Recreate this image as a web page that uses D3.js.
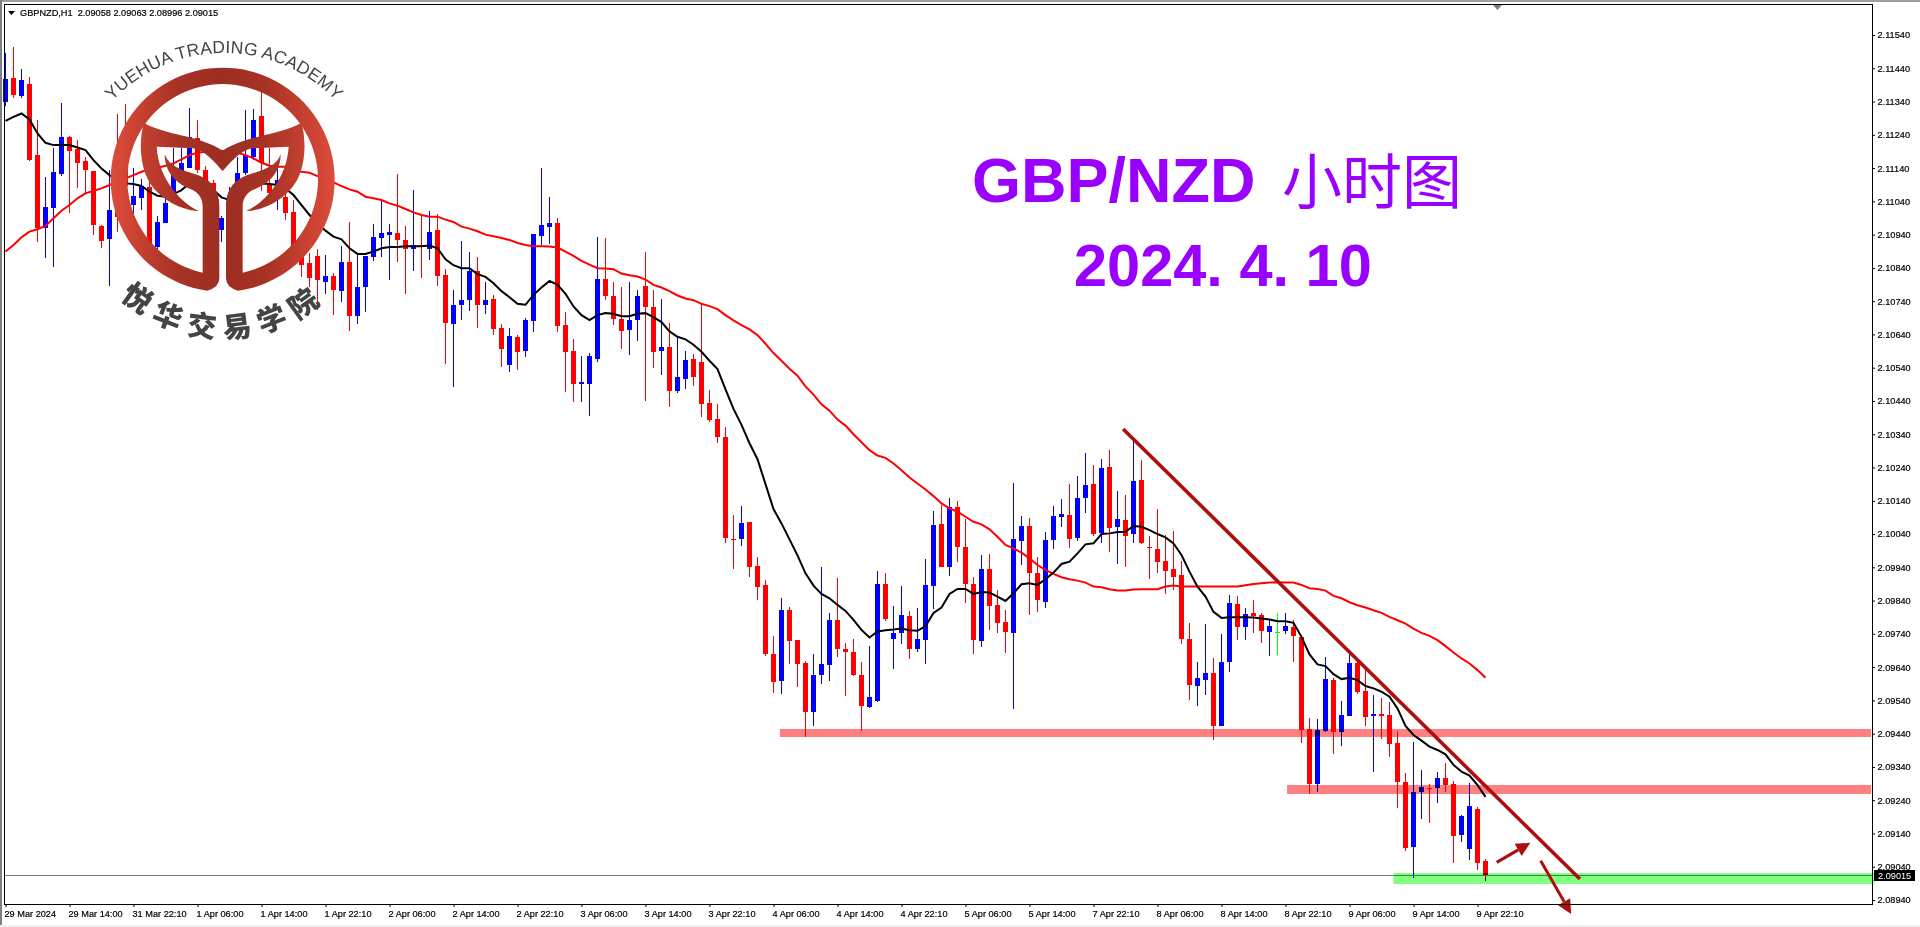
<!DOCTYPE html>
<html>
<head>
<meta charset="utf-8">
<script src="https://cdn.jsdelivr.net/npm/d3@7"></script>
<style>
  html, body { margin: 0; padding: 0; background: #fff; overflow: hidden; }
  svg { display: block; }
  text { font-family: 'Liberation Sans', Arial, sans-serif; }
  .small { font-size: 9.2px; stroke-width: 0.2px; }
</style>
</head>
<body>
<svg id="chart" width="1920" height="927"></svg>
<script>
const highs = [
  2.11485,2.11503,2.11437,2.11413,2.11286,2.11114,2.11199,2.11337,2.11236,2.11224,
  2.11172,2.11132,2.10969,2.11134,2.11304,2.11332,2.11139,2.11106,2.11124,2.10996,
  2.11107,2.11199,2.11199,2.11320,2.11284,2.11146,2.11104,2.10996,2.11084,2.11174,
  2.11314,2.11317,2.11369,2.11199,2.11144,2.11084,2.11044,2.10924,2.10884,2.10896,
  2.10879,2.10825,2.10906,2.10978,2.10879,2.10876,2.10972,2.11041,2.10972,2.11122,
  2.10966,2.11074,2.10999,2.11011,2.11002,2.10836,2.10773,2.10921,2.10888,2.10873,
  2.10797,2.10759,2.10670,2.10659,2.10638,2.10689,2.10942,2.11140,2.11054,2.10990,
  2.10706,2.10625,2.10575,2.10584,2.10932,2.10930,2.10797,2.10782,2.10799,2.10775,
  2.10888,2.10773,2.10746,2.10673,2.10636,2.10590,2.10581,2.10732,2.10473,2.10430,
  2.10362,2.10097,2.10124,2.10076,2.09971,2.09902,2.09733,2.09848,2.09820,2.09721,
  2.09658,2.09679,2.09941,2.09804,2.09908,2.09712,2.09726,2.09655,2.09703,2.09928,
  2.09922,2.09823,2.09884,2.09808,2.09817,2.09965,2.10109,2.10127,2.10148,2.10139,
  2.10085,2.09911,2.09977,2.09980,2.09872,2.09811,2.10193,2.10094,2.10088,2.09971,
  2.10046,2.10124,2.10145,2.10190,2.10214,2.10283,2.10247,2.10265,2.10292,2.10169,
  2.10157,2.10322,2.10262,2.10034,2.10115,2.10037,2.10049,2.09959,2.09772,2.09655,
  2.09769,2.09667,2.09739,2.09857,2.09854,2.09817,2.09842,2.09802,2.09781,2.09802,
  2.09802,2.09781,2.09736,2.09487,2.09484,2.09670,2.09607,2.09538,2.09679,2.09661,
  2.09641,2.09556,2.09547,2.09535,2.09448,2.09321,2.09415,2.09331,2.09288,2.09325,
  2.09352,2.09297,2.09195,2.09291,2.09219,2.09063
];
const lows = [
  2.11326,2.11352,2.11351,2.11162,2.10919,2.10871,2.10843,2.11117,2.11004,2.11081,
  2.11064,2.10939,2.10900,2.10786,2.10947,2.11044,2.10994,2.11014,2.10904,2.10889,
  2.10976,2.11054,2.11094,2.11139,2.11124,2.11064,2.11004,2.10919,2.10964,2.11024,
  2.11119,2.11164,2.11072,2.11049,2.11014,2.10984,2.10874,2.10813,2.10783,2.10713,
  2.10763,2.10698,2.10738,2.10651,2.10671,2.10706,2.10861,2.10874,2.10805,2.10857,
  2.10761,2.10830,2.10809,2.10863,2.10785,2.10551,2.10482,2.10683,2.10710,2.10659,
  2.10700,2.10638,2.10543,2.10528,2.10534,2.10572,2.10647,2.10909,2.10912,2.10646,
  2.10466,2.10436,2.10438,2.10396,2.10556,2.10743,2.10668,2.10596,2.10579,2.10620,
  2.10440,2.10539,2.10518,2.10421,2.10463,2.10476,2.10485,2.10393,2.10376,2.10315,
  2.10013,2.09936,2.10005,2.09912,2.09843,2.09674,2.09562,2.09560,2.09650,2.09579,
  2.09431,2.09464,2.09590,2.09599,2.09670,2.09554,2.09613,2.09448,2.09517,2.09536,
  2.09778,2.09634,2.09709,2.09664,2.09685,2.09649,2.09814,2.09941,2.09914,2.09956,
  2.09833,2.09679,2.09700,2.09751,2.09742,2.09682,2.09514,2.09947,2.09796,2.09805,
  2.09817,2.09995,2.10061,2.09998,2.10019,2.10103,2.10034,2.10013,2.09986,2.09950,
  2.09941,2.10013,2.10010,2.09905,2.09923,2.09860,2.09872,2.09709,2.09541,2.09523,
  2.09556,2.09421,2.09463,2.09625,2.09721,2.09721,2.09742,2.09712,2.09673,2.09676,
  2.09739,2.09655,2.09412,2.09258,2.09264,2.09445,2.09379,2.09403,2.09493,2.09559,
  2.09463,2.09324,2.09425,2.09370,2.09216,2.09088,2.09007,2.09183,2.09171,2.09231,
  2.09264,2.09051,2.09114,2.09060,2.09030,2.08996
];
const opens = [
  2.11339,2.11410,2.11356,2.11393,2.11179,2.10961,2.11021,2.11122,2.11233,2.11197,
  2.11160,2.11130,2.10966,2.10928,2.11114,2.11154,2.11030,2.11050,2.11084,2.10904,
  2.10976,2.11066,2.11114,2.11141,2.11230,2.11134,2.11094,2.10952,2.10984,2.11044,
  2.11124,2.11174,2.11296,2.11089,2.11084,2.11054,2.11008,2.10899,2.10854,2.10876,
  2.10797,2.10815,2.10770,2.10857,2.10695,2.10782,2.10873,2.10930,2.10939,2.10945,
  2.10924,2.10897,2.10909,2.10897,2.10954,2.10818,2.10671,2.10728,2.10743,2.10832,
  2.10729,2.10746,2.10659,2.10549,2.10632,2.10591,2.10681,2.10937,2.10963,2.10975,
  2.10668,2.10590,2.10492,2.10491,2.10567,2.10806,2.10755,2.10686,2.10654,2.10684,
  2.10785,2.10722,2.10590,2.10602,2.10468,2.10507,2.10566,2.10557,2.10434,2.10385,
  2.10331,2.10025,2.10026,2.10076,2.09944,2.09887,2.09679,2.09599,2.09811,2.09721,
  2.09652,2.09506,2.09617,2.09647,2.09781,2.09694,2.09684,2.09616,2.09520,2.09538,
  2.09890,2.09724,2.09742,2.09793,2.09694,2.09721,2.09884,2.10070,2.09941,2.10121,
  2.10001,2.09890,2.09718,2.09935,2.09826,2.09775,2.09742,2.10019,2.10064,2.09923,
  2.09836,2.10022,2.10091,2.10097,2.10028,2.10148,2.10190,2.10043,2.10241,2.10061,
  2.10082,2.10040,2.10202,2.10000,2.09995,2.09959,2.09935,2.09917,2.09724,2.09583,
  2.09601,2.09622,2.09463,2.09655,2.09830,2.09760,2.09802,2.09796,2.09745,2.09747,
  2.09748,2.09760,2.09730,2.09454,2.09288,2.09448,2.09601,2.09445,2.09493,2.09652,
  2.09568,2.09493,2.09499,2.09496,2.09412,2.09294,2.09099,2.09264,2.09276,2.09276,
  2.09306,2.09288,2.09135,2.09093,2.09213,2.09058
];
const closes = [
  2.11408,2.11359,2.11405,2.11164,2.10959,2.11023,2.11128,2.11233,2.11192,2.11156,
  2.11132,2.10967,2.10922,2.11014,2.10994,2.11084,2.11056,2.11086,2.10909,2.10978,
  2.11036,2.11124,2.11154,2.11234,2.11134,2.11099,2.11024,2.10989,2.11044,2.11124,
  2.11179,2.11284,2.11154,2.11066,2.11104,2.11006,2.10894,2.10848,2.10808,2.10803,
  2.10815,2.10773,2.10857,2.10695,2.10782,2.10876,2.10933,2.10945,2.10948,2.10924,
  2.10897,2.10909,2.10906,2.10948,2.10815,2.10674,2.10728,2.10743,2.10830,2.10729,
  2.10743,2.10657,2.10597,2.10635,2.10588,2.10683,2.10942,2.10969,2.10975,2.10666,
  2.10586,2.10491,2.10497,2.10575,2.10806,2.10756,2.10687,2.10650,2.10683,2.10755,
  2.10722,2.10587,2.10602,2.10470,2.10511,2.10563,2.10511,2.10432,2.10384,2.10332,
  2.10026,2.10023,2.10073,2.09942,2.09882,2.09679,2.09596,2.09811,2.09718,2.09650,
  2.09504,2.09616,2.09649,2.09781,2.09695,2.09684,2.09616,2.09524,2.09550,2.09889,
  2.09784,2.09742,2.09796,2.09694,2.09724,2.09887,2.10067,2.09941,2.10121,2.10001,
  2.09890,2.09721,2.09935,2.09823,2.09772,2.09745,2.10025,2.10064,2.09923,2.09842,
  2.10022,2.10094,2.10100,2.10025,2.10148,2.10187,2.10040,2.10238,2.10058,2.10085,
  2.10034,2.10199,2.10013,2.09996,2.09956,2.09929,2.09911,2.09724,2.09586,2.09607,
  2.09622,2.09463,2.09655,2.09833,2.09760,2.09799,2.09793,2.09748,2.09763,2.09747,
  2.09763,2.09733,2.09451,2.09288,2.09451,2.09604,2.09445,2.09496,2.09652,2.09565,
  2.09491,2.09499,2.09493,2.09410,2.09294,2.09096,2.09264,2.09279,2.09273,2.09306,
  2.09285,2.09132,2.09192,2.09222,2.09051,2.09015
];
const fastMa = [
  2.11282,2.11294,2.11304,2.11286,2.11244,2.11216,2.11209,2.11209,2.11209,2.11202,
  2.11194,2.11164,2.11139,2.11119,2.11104,2.11094,2.11092,2.11086,2.11069,2.11057,
  2.11054,2.11062,2.11074,2.11094,2.11099,2.11096,2.11074,2.11052,2.11044,2.11054,
  2.11069,2.11084,2.11094,2.11092,2.11089,2.11079,2.11059,2.11029,2.10999,2.10974,
  2.10952,2.10934,2.10926,2.10899,2.10882,2.10882,2.10889,2.10899,2.10903,2.10903,
  2.10905,2.10905,2.10905,2.10907,2.10899,2.10866,2.10848,2.10839,2.10839,2.10821,
  2.10813,2.10794,2.10770,2.10752,2.10732,2.10729,2.10759,2.10781,2.10801,2.10789,
  2.10762,2.10724,2.10698,2.10683,2.10698,2.10704,2.10702,2.10695,2.10695,2.10702,
  2.10704,2.10692,2.10677,2.10649,2.10633,2.10625,2.10609,2.10588,2.10561,2.10536,
  2.10475,2.10416,2.10368,2.10313,2.10265,2.10190,2.10115,2.10072,2.10024,2.09976,
  2.09922,2.09885,2.09860,2.09847,2.09827,2.09809,2.09782,2.09752,2.09729,2.09747,
  2.09751,2.09753,2.09756,2.09751,2.09749,2.09763,2.09803,2.09819,2.09860,2.09875,
  2.09875,2.09860,2.09866,2.09864,2.09852,2.09839,2.09862,2.09889,2.09892,2.09887,
  2.09904,2.09924,2.09950,2.09957,2.09982,2.10009,2.10012,2.10040,2.10042,2.10046,
  2.10047,2.10064,2.10062,2.10052,2.10040,2.10030,2.10012,2.09977,2.09927,2.09882,
  2.09852,2.09806,2.09788,2.09790,2.09790,2.09790,2.09789,2.09786,2.09783,2.09778,
  2.09778,2.09773,2.09731,2.09678,2.09648,2.09643,2.09619,2.09604,2.09608,2.09601,
  2.09583,2.09576,2.09566,2.09551,2.09516,2.09463,2.09436,2.09419,2.09401,2.09391,
  2.09378,2.09346,2.09326,2.09314,2.09285,2.09250
];
const slowMa = [
  2.10889,2.10909,2.10932,2.10949,2.10956,2.10966,2.10989,2.11012,2.11029,2.11049,
  2.11064,2.11072,2.11079,2.11089,2.11096,2.11109,2.11119,2.11129,2.11136,2.11141,
  2.11147,2.11154,2.11166,2.11179,2.11186,2.11189,2.11189,2.11192,2.11189,2.11186,
  2.11179,2.11169,2.11156,2.11147,2.11144,2.11144,2.11134,2.11129,2.11126,2.11116,
  2.11109,2.11097,2.11086,2.11076,2.11069,2.11054,2.11049,2.11044,2.11034,2.11027,
  2.11017,2.11007,2.10999,2.10994,2.10994,2.10985,2.10978,2.10964,2.10958,2.10950,
  2.10940,2.10935,2.10930,2.10924,2.10915,2.10909,2.10905,2.10905,2.10904,2.10901,
  2.10889,2.10876,2.10861,2.10850,2.10839,2.10838,2.10836,2.10823,2.10818,2.10814,
  2.10805,2.10789,2.10781,2.10770,2.10757,2.10748,2.10743,2.10732,2.10725,2.10716,
  2.10698,2.10682,2.10668,2.10655,2.10638,2.10612,2.10584,2.10561,2.10537,2.10516,
  2.10484,2.10459,2.10430,2.10411,2.10384,2.10366,2.10340,2.10316,2.10292,2.10276,
  2.10269,2.10252,2.10232,2.10210,2.10192,2.10174,2.10154,2.10132,2.10117,2.10107,
  2.10092,2.10077,2.10069,2.10054,2.10032,2.10007,2.09997,2.09984,2.09967,2.09947,
  2.09932,2.09920,2.09910,2.09904,2.09900,2.09894,2.09882,2.09880,2.09874,2.09870,
  2.09870,2.09873,2.09874,2.09874,2.09874,2.09882,2.09885,2.09882,2.09882,2.09882,
  2.09882,2.09882,2.09882,2.09882,2.09882,2.09886,2.09890,2.09892,2.09894,2.09895,
  2.09894,2.09894,2.09887,2.09877,2.09875,2.09870,2.09854,2.09847,2.09835,2.09826,
  2.09819,2.09811,2.09803,2.09791,2.09781,2.09771,2.09756,2.09743,2.09734,2.09721,
  2.09703,2.09684,2.09666,2.09651,2.09631,2.09608
];
const priceTicks = [
  2.1154,2.1144,2.1134,2.1124,2.1114,2.1104,2.1094,2.1084,2.1074,2.1064,2.1054,2.1044,2.1034,2.1024,
  2.1014,2.1004,2.0994,2.0984,2.0974,2.0964,2.0954,2.0944,2.0934,2.0924,2.0914,2.0904,2.0894
];
const timeLabels = [
  '29 Mar 2024','29 Mar 14:00','31 Mar 22:10','1 Apr 06:00','1 Apr 14:00','1 Apr 22:10',
  '2 Apr 06:00','2 Apr 14:00','2 Apr 22:10','3 Apr 06:00','3 Apr 14:00','3 Apr 22:10',
  '4 Apr 06:00','4 Apr 14:00','4 Apr 22:10','5 Apr 06:00','5 Apr 14:00','7 Apr 22:10',
  '8 Apr 06:00','8 Apr 14:00','8 Apr 22:10','9 Apr 06:00','9 Apr 14:00','9 Apr 22:10'
];
const timeTickBars = [0,8,16,24,32,40,48,56,64,72,80,88,96,104,112,120,128,136,144,152,160,168,176,184];

// drawn objects, in bar number and price
const levelPrices = [2.09442, 2.09272, 2.09005];
const levelFromBars = [96.8, 160.2, 173.5];
const levelToBars = [233.2, 233.2, 233.6];
const trendBars = [139.7, 196.8];
const trendPrices = [2.10356, 2.09003];
const arrowBars = [[186.4, 190.6], [191.9, 195.7]];
const arrowPrices = [[2.09053, 2.09112], [2.09058, 2.08898]];
const lastPrice = 2.09015;

const svg = d3.select('#chart');
const frame = { left: 4.5, right: 1872.5, top: 4.5, bottom: 904.5 };

const x = d3.scaleLinear().domain([0, 185]).range([5.5, 1485.5]);
const y = d3.scaleLinear().domain([2.1154, 2.0894]).range([35, 900]);

// window edges
svg.append('rect').attr('width', 1920).attr('height', 2).attr('fill', '#a0a0a0');
svg.append('rect').attr('width', 2).attr('height', 925).attr('fill', '#808080');
svg.append('rect').attr('y', 925).attr('width', 1920).attr('height', 2).attr('fill', '#f0f0f0');

const candleColor = (i) => (closes[i] > opens[i] ? '#0000ff' : closes[i] < opens[i] ? '#ff0000' : '#00ff00');
const candles = svg.append('g').attr('shape-rendering', 'crispEdges');

candles
  .selectAll('.wick')
  .data(d3.range(highs.length))
  .enter()
  .append('rect')
  .attr('class', 'wick')
  .attr('x', (i) => x(i) - 0.5)
  .attr('width', 1)
  .attr('y', (i) => Math.round(y(highs[i])))
  .attr('height', (i) => Math.round(y(lows[i])) - Math.round(y(highs[i])))
  .attr('fill', candleColor);

candles
  .selectAll('.body')
  .data(d3.range(highs.length))
  .enter()
  .append('rect')
  .attr('class', 'body')
  .attr('x', (i) => x(i) - 2.5)
  .attr('width', 5)
  .attr('y', (i) => Math.round(y(Math.max(opens[i], closes[i]))))
  .attr('height', (i) => Math.max(1, Math.round(Math.abs(y(opens[i]) - y(closes[i])))))
  .attr('fill', candleColor);

const maLine = d3.line().x((d, i) => x(i)).y((d) => y(d));
svg.append('path').attr('d', maLine(slowMa)).attr('fill', 'none').attr('stroke', '#ff0000').attr('stroke-width', 2);
svg.append('path').attr('d', maLine(fastMa)).attr('fill', 'none').attr('stroke', '#000').attr('stroke-width', 2);

// last price line
svg.append('line')
  .attr('x1', frame.left).attr('x2', frame.right)
  .attr('y1', Math.round(y(lastPrice)) + 0.5).attr('y2', Math.round(y(lastPrice)) + 0.5)
  .attr('stroke', '#708090');

// support and resistance bands, multiplied over the candles
const bandColors = ['#ff8080', '#ff8080', '#80ff80'];
const bandWidths = [8, 9, 11];
svg.append('g')
  .selectAll('line')
  .data(levelPrices)
  .enter()
  .append('line')
  .attr('x1', (d, i) => x(levelFromBars[i]))
  .attr('x2', (d, i) => x(levelToBars[i]))
  .attr('y1', (d) => y(d))
  .attr('y2', (d) => y(d))
  .attr('stroke', (d, i) => bandColors[i])
  .attr('stroke-width', (d, i) => bandWidths[i])
  .style('mix-blend-mode', 'multiply');

const drawColor = '#ad0f0f';
svg.append('line')
  .attr('x1', x(trendBars[0])).attr('y1', y(trendPrices[0]))
  .attr('x2', x(trendBars[1])).attr('y2', y(trendPrices[1]))
  .attr('stroke', drawColor)
  .attr('stroke-width', 3.6);

arrowBars.forEach((bars, k) => {
  const x0 = x(bars[0]), y0 = y(arrowPrices[k][0]), x1 = x(bars[1]), y1 = y(arrowPrices[k][1]);
  const a = Math.atan2(y1 - y0, x1 - x0);
  const bx = x1 - 14 * Math.cos(a), by = y1 - 14 * Math.sin(a);
  svg.append('line')
    .attr('x1', x0).attr('y1', y0).attr('x2', bx).attr('y2', by)
    .attr('stroke', drawColor).attr('stroke-width', 3);
  svg.append('polygon')
    .attr('points', [
      [x1, y1],
      [bx + 7 * Math.sin(a), by - 7 * Math.cos(a)],
      [bx - 7 * Math.sin(a), by + 7 * Math.cos(a)]
    ].join(' '))
    .attr('fill', drawColor);
});

// frame
svg.append('rect')
  .attr('x', frame.left).attr('y', frame.top)
  .attr('width', frame.right - frame.left).attr('height', frame.bottom - frame.top)
  .attr('fill', 'none').attr('stroke', '#000');

const priceAxis = d3.axisRight(y)
  .tickValues(priceTicks)
  .tickFormat(d3.format('.5f'))
  .tickSize(3)
  .tickPadding(2.5);
const timeAxis = d3.axisBottom(x)
  .tickValues(timeTickBars)
  .tickFormat((d, i) => timeLabels[i])
  .tickSize(3)
  .tickPadding(3.5);

svg.append('g').attr('transform', `translate(${frame.right - 0.5},0)`).call(priceAxis)
  .call((g) => g.select('.domain').remove())
  .selectAll('text').attr('class', 'small').attr('fill', '#000').attr('stroke', '#000');
svg.append('g').attr('transform', `translate(0,${frame.bottom - 0.5})`).call(timeAxis)
  .call((g) => g.select('.domain').remove())
  .selectAll('text').attr('class', 'small').attr('fill', '#000').attr('stroke', '#000').attr('text-anchor', 'start').attr('dx', -1.5);

// last price tag
svg.append('rect')
  .attr('x', 1874).attr('y', Math.round(y(lastPrice)) - 5)
  .attr('width', 41).attr('height', 11).attr('fill', '#000');
svg.append('text')
  .attr('class', 'small')
  .attr('x', 1878).attr('y', Math.round(y(lastPrice)) + 4)
  .attr('fill', '#fff')
  .text(d3.format('.5f')(lastPrice));

// chart header
svg.append('polygon').attr('points', '8,11 15,11 11.5,15').attr('fill', '#000');
svg.append('text')
  .attr('class', 'small')
  .attr('x', 20).attr('y', 16)
  .attr('fill', '#000').attr('stroke', '#000')
  .style('white-space', 'pre')
  .text('GBPNZD,H1  2.09058 2.09063 2.08996 2.09015');
svg.append('polygon').attr('points', '1493,5 1502,5 1497.5,10').attr('fill', '#708090');

// title
const purple = '#9900ff';
svg.append('text')
  .attr('x', 972).attr('y', 202)
  .attr('font-size', 63).attr('font-weight', 'bold').attr('fill', purple)
  .text('GBP/NZD');
svg.append('text')
  .attr('x', 1282).attr('y', 204)
  .attr('font-size', 60).attr('fill', purple)
  .style('font-family', '"Noto Sans CJK SC", sans-serif')
  .text('小时图');
svg.append('text')
  .attr('x', 1074).attr('y', 286)
  .attr('font-size', 59.5).attr('font-weight', 'bold').attr('fill', purple)
  .style('white-space', 'pre')
  .text('2024. 4. 10');

// academy logo, traced in a 3x box
const defs = svg.append('defs');
const grad = defs.append('linearGradient').attr('id', 'logoFill')
  .attr('gradientUnits', 'userSpaceOnUse')
  .attr('x1', 62).attr('x2', 734).attr('y1', 0).attr('y2', 0);
[[0, '#de4b3a'], [0.3, '#a73325'], [0.5, '#9c2e22'], [0.7, '#a73325'], [1, '#de4b3a']].forEach((s) => {
  grad.append('stop').attr('offset', s[0]).attr('stop-color', s[1]);
});
defs.append('path').attr('id', 'logoTop').attr('d', 'M69 208 A155 155 0 0 1 379 208');
defs.append('path').attr('id', 'logoBottom').attr('d', 'M71 185 A153 153 0 0 0 377 185');

const logo = svg.append('g').attr('transform', 'translate(90,20) scale(0.33333)');
logo.append('path')
  .attr('fill', 'url(#logoFill)')
  .attr('d', 'M388 775 Q388 802 352 812 A336 336 0 1 1 444 812 Q408 802 408 775 L408 560 '
    + 'C408 510 430 478 482 462 C520 450 558 440 572 403 C572 450 545 490 488 510 C470 520 458 535 458 560 '
    + 'L458 758 A286 286 0 1 0 338 758 L338 560 C338 535 326 520 308 510 C251 490 224 450 224 403 '
    + 'C238 440 276 450 314 462 C366 478 388 510 388 560 Z');
logo.append('path')
  .attr('fill', 'url(#logoFill)')
  .attr('d', 'M162 308 C220 345 330 345 398 392 C466 345 576 345 634 308 C650 360 645 430 626 470 '
    + 'C600 530 530 570 469 573 C520 550 590 480 596 380 L486 385 C446 395 420 430 398 453 '
    + 'C376 430 350 395 310 385 L200 380 C206 480 276 550 327 573 C266 570 196 530 170 470 C151 430 146 360 162 308 Z');

svg.append('text')
  .attr('font-size', 17.5).attr('fill', '#444').attr('text-anchor', 'middle').attr('letter-spacing', 0.2)
  .append('textPath').attr('href', '#logoTop').attr('startOffset', '50%')
  .text('YUEHUA TRADING ACADEMY');
svg.append('text')
  .attr('font-size', 29).attr('font-weight', 900).attr('fill', '#444').attr('text-anchor', 'middle').attr('letter-spacing', 9)
  .style('font-family', '"Noto Sans CJK SC", sans-serif')
  .append('textPath').attr('href', '#logoBottom').attr('startOffset', '50%')
  .text('悦华交易学院');
</script>
</body>
</html>
